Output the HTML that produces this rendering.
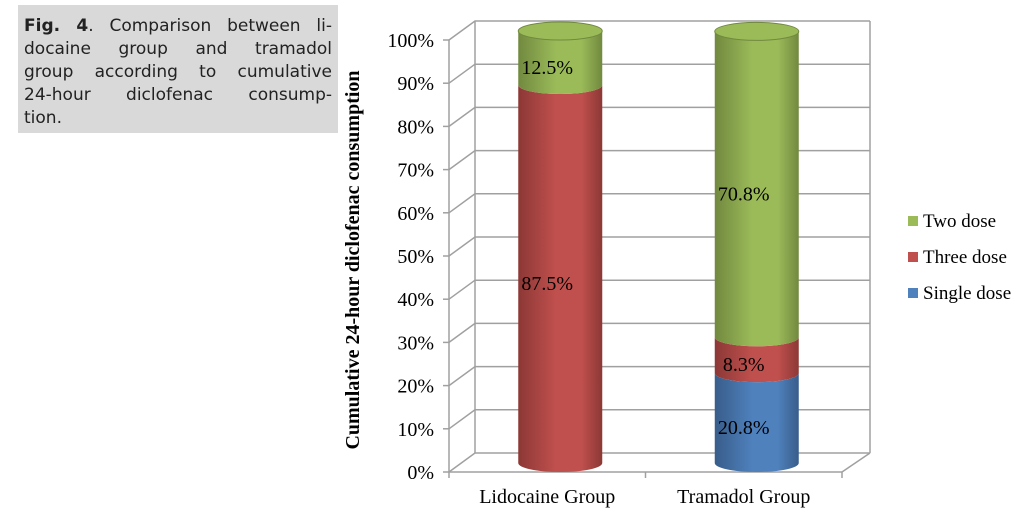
<!DOCTYPE html>
<html><head><meta charset="utf-8"><style>
body{margin:0;background:#fff;width:1031px;height:522px;overflow:hidden;position:relative}
#cap{position:absolute;left:18px;top:5px;width:308px;height:115px;padding:10px 6px 3px 6px;background:#d9d9d9;font:17px/23px "DejaVu Sans",sans-serif;color:#222}
#cap div{text-align:justify;text-align-last:justify;white-space:nowrap}
#cap div.last{text-align-last:left}
svg{position:absolute;left:0;top:0}
</style></head><body>
<div id="cap">
<div><b>Fig. 4</b>. Comparison between li-</div>
<div>docaine group and tramadol</div>
<div>group according to cumulative</div>
<div>24-hour diclofenac consump-</div>
<div class="last">tion.</div>
</div>
<svg id="c" width="1031" height="522"></svg>
<script>
const categories=["Lidocaine Group","Tramadol Group"];
const seriesNames=["Single dose","Three dose","Two dose"];
const single=[0,20.8];
const three=[87.5,8.3];
const two=[12.5,70.8];
const ticks=[0,10,20,30,40,50,60,70,80,90,100];
const cols=[["#4f81bd","#385d8a"],["#c0504d","#8c3836"],["#9bbb59","#71893f"]];
const NS="http://www.w3.org/2000/svg",svg=document.getElementById("c");
function el(t,a,p){const e=document.createElementNS(NS,t);for(const k in a)e.setAttribute(k,a[k]);(p||svg).appendChild(e);return e;}
const X0=449,X1=842,Y0=472,Y100=40,DX=26,DY=-19;
const yF=v=>Y0-(Y0-Y100)*v/100;
const defs=el("defs",{});
cols.forEach((c,i)=>{const g=el("linearGradient",{id:"g"+i,x1:0,x2:1,y1:0,y2:0},defs);
[[0,c[1]],[0.45,c[0]],[0.75,c[0]],[1,c[1]]].forEach(s=>el("stop",{offset:s[0],"stop-color":s[1]},g));});
const grid=el("g",{stroke:"#a0a0a0","stroke-width":1.5,fill:"none"});

ticks.forEach(t=>{const y=yF(t);
el("polyline",{points:`${X0},${y} ${X0+DX},${y+DY} ${X1+DX+2},${y+DY}`},grid);
el("line",{x1:X0-6,y1:y,x2:X0,y2:y},grid);
const tx=el("text",{x:434,y:y+7,"text-anchor":"end","font-family":"Liberation Serif,serif","font-size":20,fill:"#000"});
tx.textContent=t+"%";});
el("line",{x1:X0+DX,y1:Y0+DY,x2:X0+DX,y2:yF(100)+DY},grid);
el("line",{x1:X1+DX+2,y1:Y0+DY,x2:X1+DX+2,y2:yF(100)+DY},grid);
el("polyline",{points:`${X1},${Y0} ${X1+DX+2},${Y0+DY}`},grid);
el("line",{x1:X0,y1:Y0,x2:X1,y2:Y0},grid);
el("line",{x1:X0,y1:Y0,x2:X0,y2:yF(100)},grid);
[0,1,2].forEach(i=>{const x=X0+(X1-X0)*i/2;el("line",{x1:x,y1:Y0,x2:x,y2:Y0+6},grid);});
const BW=84,RY=9,base=463,k=(Y0-Y100)/100;
categories.forEach((c,i)=>{const cx=X0+13+(X1-X0)*(i+0.5)/2,l=cx-BW/2,rx=BW/2;
const vals=[single[i],three[i],two[i]];let cum=0;
vals.forEach((v,s)=>{if(v<=0){return;}const yb=base-cum*k,yt=base-(cum+v)*k;cum+=v;
const p=el("path",{d:`M${l},${yt} L${l},${yb} A${rx},${RY} 0 0 0 ${l+BW},${yb} L${l+BW},${yt} A${rx},${RY} 0 0 1 ${l},${yt}Z`,fill:`url(#g${s})`});

const lab=el("text",{x:cx-13,y:(yb+yt)/2+16,"text-anchor":"middle","font-family":"Liberation Serif,serif","font-size":20,fill:"#000"});
lab.textContent=v+"%";});
const yt=base-cum*k;
const top=el("ellipse",{cx:cx,cy:yt,rx:rx,ry:RY,fill:cols[2][0],stroke:cols[2][1],"stroke-width":1});

const t=el("text",{x:cx-13,y:503,"text-anchor":"middle","font-family":"Liberation Serif,serif","font-size":20,fill:"#000"});
t.textContent=c;});
const yt=el("text",{transform:"translate(359,260) rotate(-90)","text-anchor":"middle","font-family":"Liberation Serif,serif","font-size":20,"font-weight":"bold",fill:"#000"});
yt.textContent="Cumulative 24-hour diclofenac consumption";
[2,1,0].forEach((s,j)=>{const y=222+j*36;
const g=el("g",{});
el("rect",{x:908,y:y-6,width:10,height:10,fill:cols[s][0]},g);
const tx=el("text",{x:923,y:y+5,"font-family":"Liberation Serif,serif","font-size":19,fill:"#000"},g);tx.textContent=seriesNames[s];});
</script>
</body></html>
